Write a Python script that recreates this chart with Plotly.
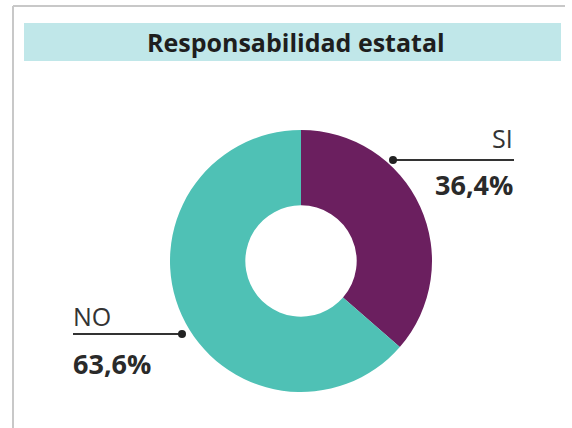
import plotly.graph_objects as go

title = "Responsabilidad estatal"
labels = ["SI", "NO"]
values = [36.4, 63.6]
value_texts = ["36,4%", "63,6%"]
colors = ["#6b1f5f", "#4fc1b5"]

W, H = 572, 428
cx, cy, R = 301, 261, 131

fig = go.Figure()
fig.add_trace(go.Pie(
    labels=labels, values=values, hole=0.425, sort=False, direction="clockwise",
    rotation=0, marker=dict(colors=colors, line=dict(width=0)),
    textinfo="none", hoverinfo="label+percent", showlegend=False,
    domain=dict(x=[(cx - R) / W, (cx + R) / W], y=[(H - cy - R) / H, (H - cy + R) / H]),
))

def px(x):
    return x / W

def py(y):
    return 1 - y / H

shapes = [
    # card border (left and top)
    dict(type="line", xref="paper", yref="paper", x0=px(13), x1=px(13), y0=py(6), y1=py(428),
         line=dict(color="#c8c8c8", width=2)),
    dict(type="line", xref="paper", yref="paper", x0=px(13), x1=px(565), y0=py(6), y1=py(6),
         line=dict(color="#c8c8c8", width=2)),
    # title bar
    dict(type="rect", xref="paper", yref="paper", x0=px(24), x1=px(561), y0=py(23), y1=py(61),
         fillcolor="#c0e7e9", line=dict(width=0), layer="below"),
    # SI leader
    dict(type="line", xref="paper", yref="paper", x0=px(393), x1=px(514), y0=py(160), y1=py(160),
         line=dict(color="#333333", width=2)),
    dict(type="circle", xref="paper", yref="paper", x0=px(389), x1=px(397), y0=py(156), y1=py(164),
         fillcolor="#222222", line=dict(width=0)),
    # NO leader
    dict(type="line", xref="paper", yref="paper", x0=px(73), x1=px(182), y0=py(334), y1=py(334),
         line=dict(color="#333333", width=2)),
    dict(type="circle", xref="paper", yref="paper", x0=px(178), x1=px(186), y0=py(330), y1=py(338),
         fillcolor="#222222", line=dict(width=0)),
]

font_fam = "Open Sans, Noto Sans, sans-serif"
annotations = [
    dict(text="<b>" + title + "</b>", x=px(296), y=py(42), xref="paper", yref="paper",
         showarrow=False, font=dict(size=25, color="#1e1e1e", family=font_fam), xanchor="center", yanchor="middle"),
    dict(text=labels[0], x=px(515), y=py(138), xref="paper", yref="paper", showarrow=False,
         font=dict(size=25, color="#333333", family=font_fam), xanchor="right", yanchor="middle"),
    dict(text="<b>" + value_texts[0] + "</b>", x=px(515), y=py(184), xref="paper", yref="paper", showarrow=False,
         font=dict(size=27, color="#2a2a2a", family=font_fam), xanchor="right", yanchor="middle"),
    dict(text=labels[1], x=px(71), y=py(316), xref="paper", yref="paper", showarrow=False,
         font=dict(size=25, color="#333333", family=font_fam), xanchor="left", yanchor="middle"),
    dict(text="<b>" + value_texts[1] + "</b>", x=px(71), y=py(363), xref="paper", yref="paper", showarrow=False,
         font=dict(size=27, color="#2a2a2a", family=font_fam), xanchor="left", yanchor="middle"),
]

fig.update_layout(
    width=W, height=H, margin=dict(l=0, r=0, t=0, b=0),
    paper_bgcolor="white", plot_bgcolor="white",
    shapes=shapes, annotations=annotations,
)

fig.write_html("out.html", config={"displayModeBar": False},
               post_script="document.body.style.margin='0';document.body.style.overflow='hidden';")
